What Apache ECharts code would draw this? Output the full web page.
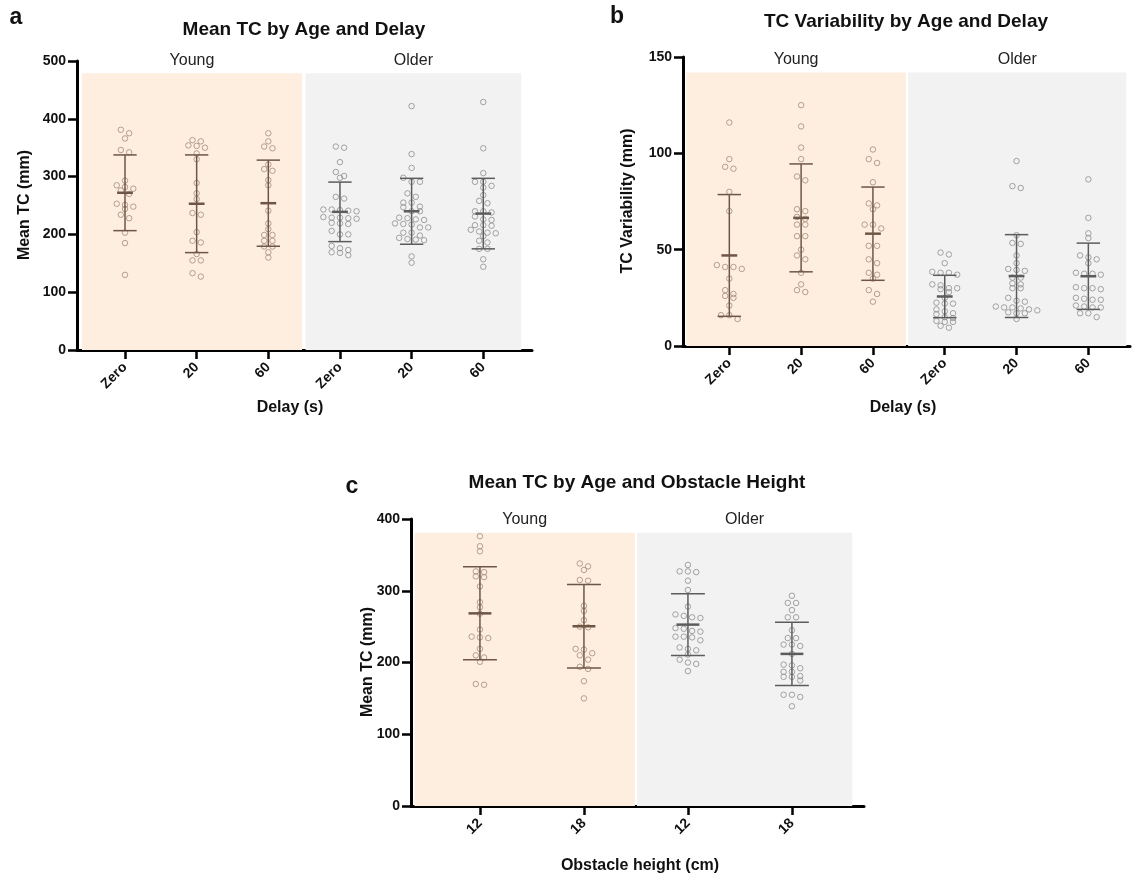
<!DOCTYPE html>
<html>
<head>
<meta charset="utf-8">
<script src="https://cdn.jsdelivr.net/npm/echarts@6/dist/echarts.min.js"></script>
<style>
  html, body { margin: 0; padding: 0; background: #fff; }
  #main { width: 1132px; height: 880px; }
</style>
</head>
<body>
<div id="main"></div>
<script>
// ---- data ----
const delayLabels = ['Zero', '20', '60', 'Zero', '20', '60'];
const heightLabels = ['12', '18', '12', '18'];
const ageGroups = ['Young', 'Older'];

// a: Mean TC (mm) by delay
const meanTcYoungZero = [381, 375, 366, 346, 342, 293, 285, 282, 279, 276, 270, 253, 251, 248, 244, 234, 228, 203, 185, 130];
const meanTcYoung20 = [363, 361, 354, 353, 350, 340, 330, 289, 271, 261, 237, 234, 204, 189, 186, 166, 155, 155, 133, 127];
const meanTcYoung60 = [375, 361, 352, 349, 321, 313, 310, 294, 285, 241, 219, 209, 199, 199, 189, 189, 179, 179, 169, 160];
const meanTcOlderZero = [352, 350, 325, 308, 301, 298, 265, 262, 243, 242, 241, 243, 240, 230, 229, 228, 229, 227, 220, 219, 218, 206, 200, 200, 180, 176, 173, 169, 168, 164];
const meanTcOlder20 = [422, 339, 315, 298, 291, 291, 271, 265, 255, 255, 248, 247, 240, 240, 229, 228, 226, 225, 219, 218, 217, 212, 212, 203, 203, 198, 194, 192, 191, 190, 162, 151];
const meanTcOlder60 = [429, 349, 306, 291, 291, 284, 281, 268, 258, 254, 240, 240, 238, 231, 226, 225, 216, 216, 215, 208, 205, 203, 202, 197, 189, 186, 175, 175, 157, 144];
const meanTcDelayMean = [272, 253, 254, 239, 240, 236];
const meanTcDelaySD = [65.5, 84.5, 74.5, 51.5, 57, 61];

// b: TC variability (mm) by delay
const varYoungZero = [116, 97, 93, 92, 80, 70, 42, 41, 41, 40, 35, 29, 27, 26, 25, 21, 16, 16, 14];
const varYoung20 = [125, 114, 103, 97, 88, 86, 71, 70, 67, 66, 63, 63, 57, 57, 50, 47, 45, 38, 32, 29, 28];
const varYoung60 = [102, 97, 95, 85, 74, 73, 71, 63, 63, 61, 52, 52, 45, 43, 38, 37, 35, 29, 27, 23];
const varOlderZero = [48.5, 47.5, 43, 38.5, 38, 38, 37, 32, 31.5, 30, 30, 29.5, 28, 25, 22.5, 22, 22, 19, 18, 17, 16.5, 15, 14.5, 13, 12.5, 12.5, 10.5, 9.5];
const varOlder20 = [96, 83, 82, 57.5, 53.5, 53, 47, 43, 40, 39.5, 39, 35.5, 35.5, 32.5, 32, 30, 30, 25, 23.5, 23, 20.5, 20, 20, 19.5, 19, 18.5, 17.5, 17, 17, 14];
const varOlder60 = [86.5, 66.5, 58.5, 56, 47, 46, 45, 43, 38, 37.5, 37.5, 37, 30.5, 30, 30, 29.5, 25, 24.5, 24, 24, 21, 20.5, 20, 20, 17, 17, 15];
const varDelayMean = [47, 66.5, 58.3, 25.7, 36.3, 36.2];
const varDelaySD = [31.6, 28, 24.2, 11, 21.5, 17.2];

// c: Mean TC (mm) by obstacle height
const heightYoung12 = [376, 362, 355, 327, 326, 320, 319, 306, 284, 277, 268, 246, 236, 235, 234, 219, 210, 207, 201, 170, 169];
const heightYoung18 = [338, 334, 329, 315, 314, 279, 272, 259, 250, 249, 219, 218, 213, 210, 204, 194, 191, 174, 150];
const heightOlder12 = [336, 327, 327, 326, 314, 301, 278, 267, 265, 263, 262, 248, 247, 244, 243, 236, 236, 235, 231, 221, 219, 217, 211, 204, 200, 198, 188];
const heightOlder18 = [293, 283, 283, 273, 263, 263, 245, 234, 234, 225, 225, 223, 212, 197, 196, 192, 187, 187, 181, 180, 180, 175, 155, 155, 152, 139];
const heightMean = [268.5, 250.5, 252.8, 212];
const heightSD = [64.8, 58.2, 42.9, 44];

// ---- styling ----
const FONT = '"Liberation Sans", Arial, sans-serif';
const youngShade = '#fdeedf';
const olderShade = '#f2f2f2';
const youngDot = '#a58b7a';
const olderDot = '#8d8d8d';
const youngBar = '#6e5646';
const olderBar = '#5c5c5c';
const DOT_STEP = 8.3;   // px between dots in a row
const ROW_PX = 4.5;     // dots closer than this (px) share a row

// simple row-based swarm: sorted values that sit within ROW_PX share a row
function swarm(values, center, pxPerX, pxPerY) {
  const sorted = values.slice().sort((a, b) => b - a);
  const rows = [];
  sorted.forEach(v => {
    const last = rows[rows.length - 1];
    if (last && (last[0] - v) * pxPerY < ROW_PX) last.push(v);
    else rows.push([v]);
  });
  const out = [];
  rows.forEach(r => r.forEach((v, k) => {
    out.push([center + (k - (r.length - 1) / 2) * DOT_STEP / pxPerX, v]);
  }));
  return out;
}

const grids = [], xAxes = [], yAxes = [], series = [];

function addPanel(p) {
  const i = grids.length;
  grids.push({ left: p.left, top: p.top, width: p.width, height: p.height });
  const pxPerX = p.width / (p.xMax - p.xMin);
  const pxPerY = p.height / p.yMax;
  const ticks = p.labels.map((_, k) => k);
  xAxes.push({
    gridIndex: i, type: 'value', min: p.xMin, max: p.xMax,
    splitLine: { show: false },
    axisLine: { onZero: false, lineStyle: { color: '#000', width: 3 } },
    axisTick: { customValues: ticks, length: 9, lineStyle: { color: '#000', width: 2.5 } },
    axisLabel: {
      customValues: ticks, rotate: 45, margin: 15,
      formatter: v => p.labels[Math.round(v)],
      color: '#111', fontSize: 14, fontWeight: 'bold', fontFamily: FONT
    }
  });
  yAxes.push({
    gridIndex: i, type: 'value', min: 0, max: p.yMax, interval: p.yInterval,
    splitLine: { show: false },
    axisLine: { show: true, onZero: false, lineStyle: { color: '#000', width: 3 } },
    axisTick: { show: true, length: 9, lineStyle: { color: '#000', width: 2.5 } },
    axisLabel: { margin: 11, color: '#111', fontSize: 14, fontWeight: 'bold', fontFamily: FONT }
  });

  // shaded age blocks with their labels
  series.push({
    type: 'custom', xAxisIndex: i, yAxisIndex: i, z: 1, silent: true,
    data: p.shades,
    renderItem(params, api) {
      const a = api.coord([api.value(0), api.value(2)]);
      const b = api.coord([api.value(1), 0]);
      const k = api.value(3);
      return {
        type: 'group',
        children: [
          { type: 'rect', shape: { x: a[0], y: a[1], width: b[0] - a[0], height: b[1] - a[1] },
            style: { fill: k === 0 ? youngShade : olderShade } },
          { type: 'text', x: (a[0] + b[0]) / 2, y: a[1] - 13,
            style: { text: ageGroups[k], textAlign: 'center', textVerticalAlign: 'middle',
                     font: '16px ' + FONT, fill: '#222' } }
        ]
      };
    }
  });

  // individual points
  p.groups.forEach((vals, g) => {
    const young = g < p.nYoung;
    series.push({
      type: 'scatter', xAxisIndex: i, yAxisIndex: i, z: 2, silent: true,
      symbol: 'circle', symbolSize: 5.5,
      itemStyle: { color: 'rgba(255,255,255,0)', borderColor: young ? youngDot : olderDot, borderWidth: 1 },
      data: swarm(vals, g, pxPerX, pxPerY)
    });
  });

  // mean +/- SD
  const capHalf = 0.163, meanHalf = 0.11;
  series.push({
    type: 'custom', xAxisIndex: i, yAxisIndex: i, z: 3, silent: true,
    data: p.means.map((m, g) => [g, m, p.sds[g]]),
    renderItem(params, api) {
      const x = api.value(0), m = api.value(1), s = api.value(2);
      const c = api.coord([x, m]);
      const hi = api.coord([x, m + s]);
      const lo = api.coord([x, m - s]);
      const cw = capHalf * pxPerX, mw = meanHalf * pxPerX;
      const stroke = x < p.nYoung ? youngBar : olderBar;
      const ln = (x1, y1, x2, y2, w) => ({ type: 'line', shape: { x1, y1, x2, y2 }, style: { stroke, lineWidth: w } });
      return {
        type: 'group',
        children: [
          ln(c[0], hi[1], c[0], lo[1], 1.5),
          ln(c[0] - cw, hi[1], c[0] + cw, hi[1], 1.5),
          ln(c[0] - cw, lo[1], c[0] + cw, lo[1], 1.5),
          ln(c[0] - mw, c[1], c[0] + mw, c[1], 2.5)
        ]
      };
    }
  });
}

addPanel({
  left: 77, top: 61, width: 455, height: 289, xMin: -0.67, xMax: 5.68,
  yMax: 500, yInterval: 100, labels: delayLabels, nYoung: 3,
  groups: [meanTcYoungZero, meanTcYoung20, meanTcYoung60, meanTcOlderZero, meanTcOlder20, meanTcOlder60],
  means: meanTcDelayMean, sds: meanTcDelaySD,
  shades: [[-0.6, 2.47, 479, 0], [2.52, 5.53, 479, 1]]
});
addPanel({
  left: 683, top: 57, width: 447, height: 289, xMin: -0.645, xMax: 5.58,
  yMax: 150, yInterval: 50, labels: delayLabels, nYoung: 3,
  groups: [varYoungZero, varYoung20, varYoung60, varOlderZero, varOlder20, varOlder60],
  means: varDelayMean, sds: varDelaySD,
  shades: [[-0.6, 2.46, 142, 0], [2.49, 5.53, 142, 1]]
});
addPanel({
  left: 411, top: 519, width: 453, height: 287, xMin: -0.663, xMax: 3.693,
  yMax: 400, yInterval: 100, labels: heightLabels, nYoung: 2,
  groups: [heightYoung12, heightYoung18, heightOlder12, heightOlder18],
  means: heightMean, sds: heightSD,
  shades: [[-0.63, 1.49, 381, 0], [1.51, 3.58, 381, 1]]
});

function txt(text, x, y, size, bold, rot) {
  return {
    type: 'text', x, y, rotation: rot || 0,
    style: { text, textAlign: 'center', textVerticalAlign: 'middle',
             font: (bold ? 'bold ' : '') + size + 'px ' + FONT, fill: '#111' }
  };
}

const chart = echarts.init(document.getElementById('main'));
chart.setOption({
  animation: false,
  backgroundColor: '#fff',
  grid: grids,
  xAxis: xAxes,
  yAxis: yAxes,
  series: series,
  graphic: [
    txt('a', 16, 18, 23, true),
    txt('Mean TC by Age and Delay', 304, 30, 19, true),
    txt('Mean TC (mm)', 25, 205, 16, true, Math.PI / 2),
    txt('Delay (s)', 290, 408, 16, true),
    txt('b', 617, 17, 23, true),
    txt('TC Variability by Age and Delay', 906, 22, 19, true),
    txt('TC Variability (mm)', 628, 201, 16, true, Math.PI / 2),
    txt('Delay (s)', 903, 408, 16, true),
    txt('c', 352, 487, 23, true),
    txt('Mean TC by Age and Obstacle Height', 637, 483, 19, true),
    txt('Mean TC (mm)', 368, 662, 16, true, Math.PI / 2),
    txt('Obstacle height (cm)', 640, 866, 16, true)
  ]
});
window.addEventListener('resize', () => chart.resize());
</script>
</body>
</html>
